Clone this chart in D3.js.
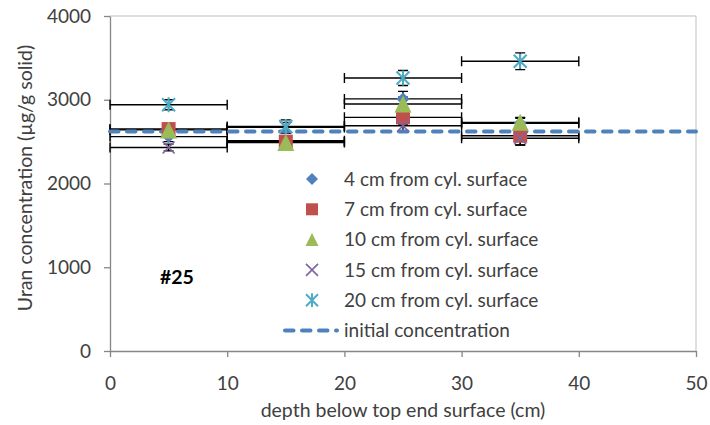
<!DOCTYPE html>
<html>
<head>
<meta charset="utf-8">
<script src="https://cdn.jsdelivr.net/npm/d3@7"></script>
<style>
  body { margin: 0; background: #fff; }
  svg text { font-family: Lato, "Open Sans", sans-serif; fill: #404040; }
</style>
</head>
<body>
<svg id="chart" width="710" height="425"></svg>
<script>
// Sample depths (centre of each 10 cm slice) and the slice half-width
const depth = [5, 15, 25, 35];
const depthHalfWidth = [5, 5, 5, 5];

const seriesNames = [
  "4 cm from cyl. surface",
  "7 cm from cyl. surface",
  "10 cm from cyl. surface",
  "15 cm from cyl. surface",
  "20 cm from cyl. surface"
];

// Uranium concentration (µg/g solid) per radial position
const conc4cm  = [2560, 2510, 3010, 2720];
const conc7cm  = [2650, 2500, 2790, 2570];
const conc10cm = [2640, 2490, 2950, 2730];
const conc15cm = [2430, 2670, 2690, 2540];
const conc20cm = [2940, 2680, 3260, 3460];

// Measurement uncertainty (±) per point
const err4cm  = [60, 60, 90, 60];
const err7cm  = [60, 60, 80, 110];
const err10cm = [60, 60, 80, 60];
const err15cm = [40, 60, 70, 80];
const err20cm = [60, 80, 90, 100];

const initialConcentration = 2620;
const initialLabel = "initial concentration";
const sampleLabel = "#25";

const xTicks = [0, 10, 20, 30, 40, 50];
const yTicks = [0, 1000, 2000, 3000, 4000];
const xTitle = "depth below top end surface (cm)";
const yTitle = "Uran concentration (µg/g solid)";

// ---- marker shapes -------------------------------------------------------
const diamondType = { draw(ctx, size) { const r = Math.sqrt(size) / 2;
  ctx.moveTo(0, -r); ctx.lineTo(r, 0); ctx.lineTo(0, r); ctx.lineTo(-r, 0); ctx.closePath(); } };
const squareType = { draw(ctx, size) { const r = Math.sqrt(size) / 2; ctx.rect(-r, -r, 2 * r, 2 * r); } };
const triangleType = { draw(ctx, size) { const r = Math.sqrt(size) / 2;
  ctx.moveTo(0, -r); ctx.lineTo(r, r); ctx.lineTo(-r, r); ctx.closePath(); } };
const crossType = { draw(ctx, size) { const r = Math.sqrt(size) / 2;
  ctx.moveTo(-r, -r); ctx.lineTo(r, r); ctx.moveTo(r, -r); ctx.lineTo(-r, r); } };
const starType = { draw(ctx, size) { const r = Math.sqrt(size) / 2;
  ctx.moveTo(-r, -r); ctx.lineTo(r, r); ctx.moveTo(r, -r); ctx.lineTo(-r, r);
  ctx.moveTo(0, -r * 1.15); ctx.lineTo(0, r * 1.15); } };

const series = [
  { name: seriesNames[0], values: conc4cm,  err: err4cm,  type: diamondType,  color: "#4F81BD", filled: true,  size: 13, legendSize: 12 },
  { name: seriesNames[1], values: conc7cm,  err: err7cm,  type: squareType,   color: "#C0504D", filled: true,  size: 14, legendSize: 12 },
  { name: seriesNames[2], values: conc10cm, err: err10cm, type: triangleType, color: "#9BBB59", filled: true,  size: 17, legendSize: 13 },
  { name: seriesNames[3], values: conc15cm, err: err15cm, type: crossType,    color: "#8064A2", filled: false, size: 12, legendSize: 12 },
  { name: seriesNames[4], values: conc20cm, err: err20cm, type: starType,     color: "#4BACC6", filled: false, size: 13, legendSize: 12 }
];

// ---- layout --------------------------------------------------------------
const svg = d3.select("#chart");
const plot = { left: 110, right: 696, top: 16, bottom: 351 };

const x = d3.scaleLinear().domain([0, 50]).range([plot.left, plot.right]);
const y = d3.scaleLinear().domain([0, 4000]).range([plot.bottom, plot.top]);

// plot frame (top and right edges)
svg.append("path")
  .attr("d", `M${plot.left},${plot.top}H${plot.right}V${plot.bottom}`)
  .attr("fill", "none").attr("stroke", "#bfbfbf").attr("stroke-width", 1);

// axes
const yAxis = svg.append("g").attr("transform", `translate(${plot.left},0)`)
  .call(d3.axisLeft(y).tickValues(yTicks).tickFormat(d3.format("d"))
    .tickSize(6).tickSizeOuter(0).tickPadding(13));
const xAxis = svg.append("g").attr("transform", `translate(0,${plot.bottom})`)
  .call(d3.axisBottom(x).tickValues(xTicks).tickFormat(d3.format("d"))
    .tickSize(6).tickSizeOuter(0).tickPadding(20));
[xAxis, yAxis].forEach(g => {
  g.select(".domain").attr("stroke", "#868686").attr("stroke-width", 1.3);
  g.selectAll(".tick line").attr("stroke", "#868686").attr("stroke-width", 1.3);
  g.selectAll(".tick text").style("font-size", "19px").attr("fill", "#404040");
});

// axis titles
svg.append("text").attr("x", (plot.left + plot.right) / 2).attr("y", 417)
  .attr("text-anchor", "middle").style("font-size", "19.5px").text(xTitle);
svg.append("text").attr("transform", `translate(32,178) rotate(-90)`)
  .attr("text-anchor", "middle").style("font-size", "19.5px").text(yTitle);

// ---- error bars ----------------------------------------------------------
const bars = svg.append("g").attr("stroke", "#000").attr("stroke-width", 1.4).attr("fill", "none");
const cap = 5;
series.forEach(s => {
  s.values.forEach((v, i) => {
    const cx = x(depth[i]), cy = y(v);
    const x0 = x(depth[i] - depthHalfWidth[i]), x1 = x(depth[i] + depthHalfWidth[i]);
    const y0 = y(v - s.err[i]), y1 = y(v + s.err[i]);
    const p = d3.path();
    p.moveTo(x0, cy); p.lineTo(x1, cy);
    p.moveTo(x0, cy - cap); p.lineTo(x0, cy + cap);
    p.moveTo(x1, cy - cap); p.lineTo(x1, cy + cap);
    p.moveTo(cx, y0); p.lineTo(cx, y1);
    p.moveTo(cx - cap, y0); p.lineTo(cx + cap, y0);
    p.moveTo(cx - cap, y1); p.lineTo(cx + cap, y1);
    bars.append("path").attr("d", p.toString());
  });
});

// initial concentration reference line
svg.append("line")
  .attr("x1", x(0)).attr("x2", x(50))
  .attr("y1", y(initialConcentration)).attr("y2", y(initialConcentration))
  .attr("stroke", "#4F81BD").attr("stroke-width", 4)
  .attr("stroke-dasharray", "8.5,8.5").attr("stroke-linecap", "round");

// ---- markers -------------------------------------------------------------
function drawMarker(g, s, px, py, sz) {
  const path = g.append("path")
    .attr("transform", `translate(${px},${py})`)
    .attr("d", d3.symbol().type(s.type).size(sz * sz)());
  if (s.filled) path.attr("fill", s.color).attr("stroke", "none");
  else path.attr("fill", "none").attr("stroke", s.color).attr("stroke-width", s.type === starType ? 2 : 1.6);
}
const marks = svg.append("g");
series.forEach(s => {
  s.values.forEach((v, i) => drawMarker(marks, s, x(depth[i]), y(v), s.size));
});

// ---- legend --------------------------------------------------------------
const legend = svg.append("g");
const legendMarkerX = 312, legendTextX = 344, legendTop = 179, legendStep = 30.3;
series.forEach((s, k) => {
  const ly = legendTop + k * legendStep;
  drawMarker(legend, s, legendMarkerX, ly, s.legendSize);
  legend.append("text").attr("x", legendTextX).attr("y", ly).attr("dy", "0.35em")
    .style("font-size", "19px").text(s.name);
});
const lastY = legendTop + series.length * legendStep;
legend.append("line").attr("x1", 285).attr("x2", 337).attr("y1", lastY).attr("y2", lastY)
  .attr("stroke", "#4F81BD").attr("stroke-width", 4)
  .attr("stroke-dasharray", "8.5,8.5").attr("stroke-linecap", "round");
legend.append("text").attr("x", legendTextX).attr("y", lastY).attr("dy", "0.35em")
  .style("font-size", "19px").text(initialLabel);

// sample tag
svg.append("text").attr("x", 160).attr("y", 277).attr("dy", "0.35em")
  .style("font-size", "19.5px").style("font-weight", "bold")
  .style("fill", "#000").text(sampleLabel);
</script>
</body>
</html>
